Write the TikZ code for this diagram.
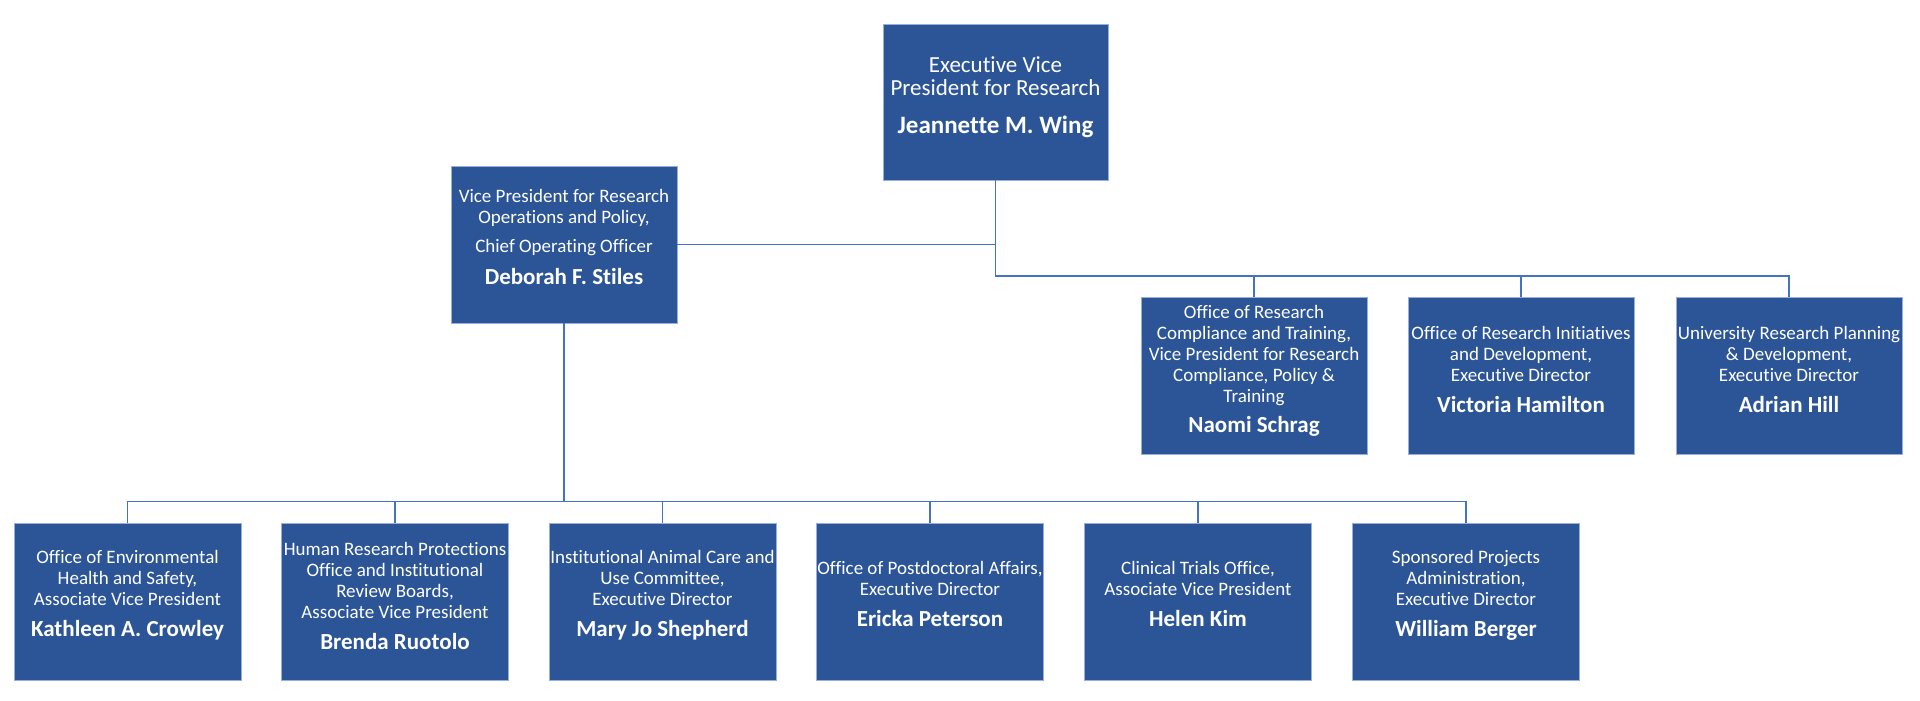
\documentclass[tikz,border=0pt]{standalone}
\usepackage{fontspec}
\setmainfont{Carlito}[Ligatures={NoCommon}]
\definecolor{boxfill}{RGB}{44,85,151}
\definecolor{boxedge}{RGB}{150,175,220}
\definecolor{linkblue}{RGB}{68,114,196}
\newcommand\txtS{\fontsize{19}{21}\selectfont}
\newcommand\nameS{\fontsize{23}{24}\selectfont\bfseries}
\newcommand\txtL{\fontsize{23}{23.7}\selectfont}
\newcommand\nameL{\fontsize{25}{26}\selectfont\bfseries}
\begin{document}
\begin{tikzpicture}[x=1pt,y=-1pt,
  orgbox/.style={draw=boxedge, line width=0.8pt, fill=boxfill, minimum width=226pt, minimum height=157pt, inner sep=0pt},
  boxtext/.style={text=white, align=center, inner sep=0pt, font=\txtS},
  link/.style={draw=linkblue, line width=1.7pt}]
\useasboundingbox (0,0) rectangle (1920,701);
\fill[white] (0,0) rectangle (1920,701);

% boxes
\node[orgbox, minimum width=225pt, minimum height=156pt] (evp) at (995.5,102) {};
\node[orgbox] (dep) at (564,244.5) {};
\node[orgbox] (ra) at (1254,375.5) {};
\node[orgbox] (rb) at (1521,375.5) {};
\node[orgbox] (rc) at (1789,375.5) {};
\node[orgbox, minimum width=227pt] (b1) at (127.5,601.5) {};
\node[orgbox, minimum width=227pt] (b2) at (395,601.5) {};
\node[orgbox, minimum width=227pt] (b3) at (662.5,601.5) {};
\node[orgbox, minimum width=227pt] (b4) at (930,601.5) {};
\node[orgbox, minimum width=227pt] (b5) at (1198,601.5) {};
\node[orgbox, minimum width=227pt] (b6) at (1466,601.5) {};

% texts
\node[boxtext, font=\txtL] (tevp) at ([yshift=5pt]evp.center) {Executive Vice\\President for Research\\[14pt]{\nameL Jeannette M. Wing}};
\node[boxtext] (tdep) at ([yshift=8pt]dep.center) {Vice President for Research\\Operations and Policy,\\[8pt]Chief Operating Officer\\[11pt]{\nameS Deborah F. Stiles}};
\node[boxtext] (tra) at ([yshift=5pt]ra.center) {Office of Research\\Compliance and Training,\\Vice President for Research\\Compliance, Policy \&\\Training\\[9pt]{\nameS Naomi Schrag}};
\node[boxtext] (trb) at ([yshift=6pt]rb.center) {Office of Research Initiatives\\and Development,\\Executive Director\\[10pt]{\nameS Victoria Hamilton}};
\node[boxtext] (trc) at ([yshift=6pt]rc.center) {University Research Planning\\\& Development,\\Executive Director\\[10pt]{\nameS Adrian Hill}};
\node[boxtext] (tb1) at ([yshift=6pt]b1.center) {Office of Environmental\\Health and Safety,\\Associate Vice President\\[10pt]{\nameS Kathleen A. Crowley}};
\node[boxtext] (tb2) at ([yshift=6pt]b2.center) {Human Research Protections\\Office and Institutional\\Review Boards,\\Associate Vice President\\[10pt]{\nameS Brenda Ruotolo}};
\node[boxtext] (tb3) at ([yshift=6pt]b3.center) {Institutional Animal Care and\\Use Committee,\\Executive Director\\[10pt]{\nameS Mary Jo Shepherd}};
\node[boxtext] (tb4) at ([yshift=8pt]b4.center) {Office of Postdoctoral Affairs,\\Executive Director\\[10pt]{\nameS Ericka Peterson}};
\node[boxtext] (tb5) at ([yshift=8pt]b5.center) {Clinical Trials Office,\\Associate Vice President\\[10pt]{\nameS Helen Kim}};
\node[boxtext] (tb6) at ([yshift=6pt]b6.center) {Sponsored Projects\\Administration,\\Executive Director\\[10pt]{\nameS William Berger}};

% bus coordinates
\coordinate (rbus) at (0,276);
\coordinate (bbus) at (0,501.5);

% connectors
\draw[link] (dep.east) -- (dep.east -| evp.south);
\foreach \c in {ra,rb,rc}
  \draw[link] (evp.south) -- (evp.south |- rbus) -| (\c.north);
\foreach \c in {b1,b2,b3,b4,b5,b6}
  \draw[link] (dep.south) -- (dep.south |- bbus) -| (\c.north);
\end{tikzpicture}
\end{document}
